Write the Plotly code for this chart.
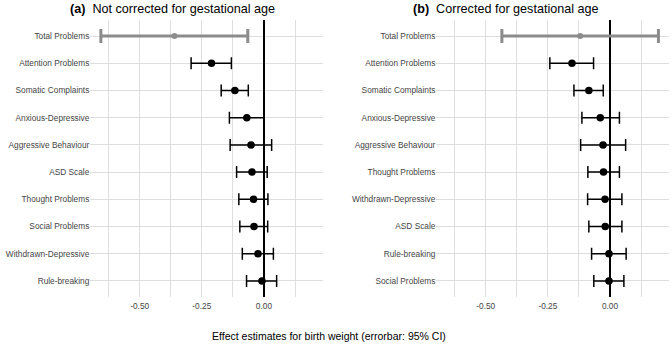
import plotly.graph_objects as go

# ---------------- data ----------------
cats_a = ["Total Problems", "Attention Problems", "Somatic Complaints", "Anxious-Depressive",
          "Aggressive Behaviour", "ASD Scale", "Thought Problems", "Social Problems",
          "Withdrawn-Depressive", "Rule-breaking"]
est_a = [-0.360, -0.211, -0.117, -0.069, -0.052, -0.048, -0.042, -0.040, -0.024, -0.008]
low_a = [-0.656, -0.293, -0.172, -0.139, -0.136, -0.110, -0.101, -0.097, -0.087, -0.070]
upp_a = [-0.065, -0.131, -0.063, 0.000, 0.031, 0.013, 0.016, 0.015, 0.038, 0.051]

cats_b = ["Total Problems", "Attention Problems", "Somatic Complaints", "Anxious-Depressive",
          "Aggressive Behaviour", "Thought Problems", "Withdrawn-Depressive", "ASD Scale",
          "Rule-breaking", "Social Problems"]
est_b = [-0.120, -0.153, -0.085, -0.039, -0.028, -0.026, -0.020, -0.019, -0.004, -0.004]
low_b = [-0.435, -0.242, -0.145, -0.113, -0.118, -0.089, -0.090, -0.085, -0.074, -0.065]
upp_b = [0.195, -0.066, -0.027, 0.038, 0.063, 0.038, 0.048, 0.048, 0.065, 0.056]

x_tickvals = [-0.5, -0.25, 0.0]
x_ticktext = ["-0.50", "-0.25", "0.00"]
x_minorvals = [-0.625, -0.375, -0.125, 0.125]

titles = [("(a)", "Not corrected for gestational age"), ("(b)", "Corrected for gestational age")]
x_title = "Effect estimates for birth weight (errorbar: 95% CI)"

# ---------------- style ----------------
W, H = 672, 344
FONT = "Liberation Sans, Arial, sans-serif"
GRID = "#DEDEDE"
GREY = "#8C8C8C"
TICKC = "#454545"

# shared x range (data range + 5%)
allv = low_a + upp_a + low_b + upp_b
lo, hi = min(allv), max(allv)
pad = (hi - lo) * 0.05
xr = [lo - pad, hi + pad]

fig = go.Figure()

panels = [
    (cats_a, est_a, low_a, upp_a, "x", "y"),
    (cats_b, est_b, low_b, upp_b, "x2", "y2"),
]

for cats, est, low, upp, xa, ya in panels:
    # Total Problems (grey)
    fig.add_trace(go.Scatter(
        x=est[:1], y=cats[:1], xaxis=xa, yaxis=ya, mode="markers",
        marker=dict(color=GREY, size=6),
        error_x=dict(type="data", symmetric=False,
                     array=[u - e for u, e in zip(upp[:1], est[:1])],
                     arrayminus=[e - l for e, l in zip(est[:1], low[:1])],
                     color=GREY, thickness=3, width=7),
        showlegend=False, hoverinfo="skip"))
    # Subscales (black)
    fig.add_trace(go.Scatter(
        x=est[1:], y=cats[1:], xaxis=xa, yaxis=ya, mode="markers",
        marker=dict(color="black", size=7.5),
        error_x=dict(type="data", symmetric=False,
                     array=[u - e for u, e in zip(upp[1:], est[1:])],
                     arrayminus=[e - l for e, l in zip(est[1:], low[1:])],
                     color="black", thickness=1.5, width=6),
        showlegend=False, hoverinfo="skip"))

ytop = 1 - 19.7 / H
ybot = 1 - 297.3 / H

xaxis_common = dict(
    range=xr, tickmode="array", tickvals=x_tickvals, ticktext=x_ticktext,
    showgrid=True, gridcolor=GRID, gridwidth=1,
    minor=dict(tickmode="array", tickvals=x_minorvals, showgrid=True, gridcolor=GRID, gridwidth=1),
    zeroline=True, zerolinecolor="black", zerolinewidth=1.6,
    showline=False, ticks="", tickfont=dict(family=FONT, size=8.3, color=TICKC),
    ticklabelstandoff=2, fixedrange=True,
)
yaxis_common = dict(
    type="category", range=[9.6, -0.6], showgrid=True, gridcolor=GRID, gridwidth=1,
    zeroline=False, showline=False, ticks="",
    tickfont=dict(family=FONT, size=8.3, color=TICKC),
    domain=[ybot, ytop], fixedrange=True,
)

fig.update_layout(
    width=W, height=H,
    margin=dict(l=0, r=0, t=0, b=0),
    paper_bgcolor="white", plot_bgcolor="white",
    font=dict(family=FONT, color="black"),
    xaxis=dict(domain=[90.3 / W, 323 / W], anchor="y", **xaxis_common),
    xaxis2=dict(domain=[436.4 / W, 669 / W], anchor="y2", **xaxis_common),
    yaxis=dict(anchor="x", categoryorder="array", categoryarray=cats_a, **yaxis_common),
    yaxis2=dict(anchor="x2", categoryorder="array", categoryarray=cats_b, **yaxis_common),
)

for (tag, txt), cx in zip(titles, [172, 506]):
    fig.add_annotation(
        x=cx / W, y=1 - 9 / H, xref="paper", yref="paper",
        xanchor="center", yanchor="middle", showarrow=False,
        text=f"<b>{tag}</b>  {txt}", font=dict(family=FONT, size=12.6, color="black"))

fig.add_annotation(
    x=329 / W, y=1 - 336 / H, xref="paper", yref="paper",
    xanchor="center", yanchor="middle", showarrow=False,
    text=x_title, font=dict(family=FONT, size=10.5, color="black"))

fig.write_html(
    "out.html",
    config={"displayModeBar": False},
    post_script="document.body.style.margin='0';document.body.style.overflow='hidden';",
)
